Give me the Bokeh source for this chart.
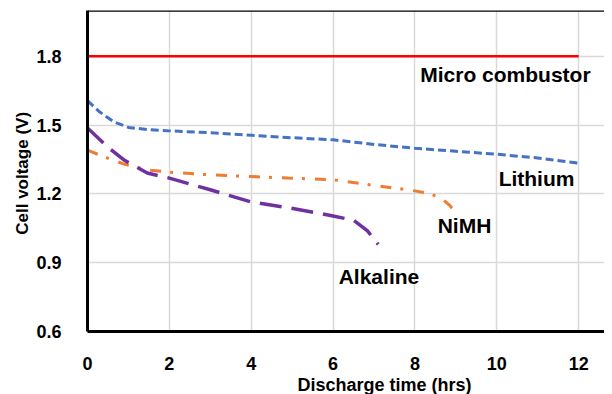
from bokeh.plotting import figure
from bokeh.models import FixedTicker, Label, Span, Range1d, Title
from bokeh.embed import file_html
from bokeh.resources import INLINE

# ---- data ----
x_ticks = [0, 2, 4, 6, 8, 10, 12]
y_ticks = [0.6, 0.9, 1.2, 1.5, 1.8]

micro_x = [0, 12]
micro_y = [1.8, 1.8]

lithium_x = [0, 0.3, 0.65, 1, 1.5, 2, 3, 4, 5, 6, 7, 8, 9, 10, 11, 12]
lithium_y = [1.607, 1.557, 1.514, 1.49, 1.48, 1.475, 1.467, 1.456, 1.445, 1.436,
             1.416, 1.399, 1.386, 1.373, 1.357, 1.334]

nimh_x = [0, 0.36, 0.89, 1.46, 2, 3, 4, 4.9, 6, 7.16, 7.8, 8.3, 8.63, 8.85, 9.0]
nimh_y = [1.391, 1.365, 1.330, 1.305, 1.295, 1.283, 1.276, 1.269, 1.262, 1.233,
          1.219, 1.204, 1.183, 1.15, 1.115]

alk_x = [0, 0.48, 0.89, 1.46, 2, 3, 4, 4.9, 6, 6.5, 6.84, 7.1]
alk_y = [1.488, 1.406, 1.348, 1.291, 1.269, 1.218, 1.165, 1.140, 1.104, 1.085,
         1.039, 0.98]

labels = ["Micro combustor", "Lithium", "NiMH", "Alkaline"]
label_pos = [(10.21, 1.72), (10.97, 1.269), (9.21, 1.062), (7.12, 0.842)]

x_title = "Discharge time (hrs)"
y_title = "Cell  voltage (V)"

FONT = "Liberation Sans"

# ---- figure ----
p = figure(width=604, height=394, output_backend="svg", toolbar_location=None,
           x_range=Range1d(0, 12.63), y_range=Range1d(0.6, 2.0),
           min_border_left=87, min_border_right=0, min_border_top=10,
           min_border_bottom=59)
p.outline_line_color = None
p.background_fill_color = "white"
p.border_fill_color = "white"

for ax, ticks in ((p.xaxis, x_ticks), (p.yaxis, y_ticks)):
    ax.ticker = FixedTicker(ticks=ticks)
    ax.axis_line_color = "black"
    ax.axis_line_width = 3
    ax.major_tick_line_color = None
    ax.minor_tick_line_color = None
    ax.major_label_text_font = FONT
    ax.major_label_text_font_style = "bold"
    ax.major_label_text_font_size = "18px"
    ax.major_label_text_color = "black"
    ax.major_label_standoff = 20

p.yaxis.axis_label = y_title
p.yaxis.axis_label_text_font = FONT
p.yaxis.axis_label_text_font_style = "bold"
p.yaxis.axis_label_text_font_size = "17px"
p.yaxis.axis_label_text_color = "black"
p.yaxis.axis_label_standoff = 1
p.yaxis.formatter.use_scientific = False
p.xaxis.major_label_standoff = 19

p.add_layout(Title(text=x_title, align="left", offset=210, standoff=0,
                   text_font=FONT, text_font_style="bold", text_font_size="18px",
                   text_color="black"), "below")

p.xgrid.ticker = FixedTicker(ticks=x_ticks)
p.ygrid.ticker = FixedTicker(ticks=y_ticks)
p.grid.grid_line_color = "#d9d9d9"
p.grid.grid_line_width = 1.5

p.add_layout(Span(location=2.0, dimension="width", line_color="black", line_width=2.5))

p.line(micro_x, micro_y, line_color="#ff0000", line_width=2.5)
p.line(lithium_x, lithium_y, line_color="#4472c4", line_width=3, line_dash="8 4")
p.line(nimh_x, nimh_y, line_color="#ed7d31", line_width=3, line_dash="11 9 3 10")
p.line(alk_x, alk_y, line_color="#7030a0", line_width=3.5, line_dash="22 10")

for t, (lx, ly) in zip(labels, label_pos):
    p.add_layout(Label(x=lx, y=ly, text=t, text_font="Liberation Sans",
                       text_font_style="bold", text_font_size="21px",
                       text_color="black", text_align="center",
                       text_baseline="middle"))

open("out.html", "w").write(file_html(p, INLINE))
